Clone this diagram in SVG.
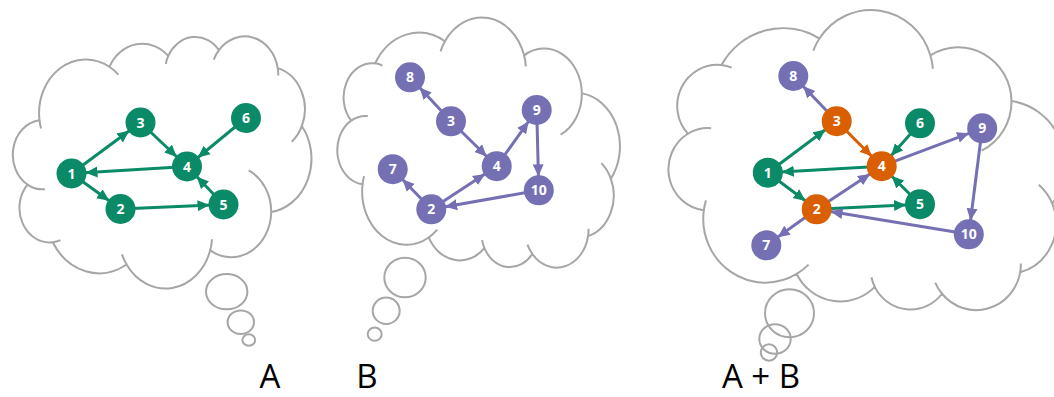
<svg xmlns="http://www.w3.org/2000/svg" xmlns:xlink="http://www.w3.org/1999/xlink" width="1054" height="397" viewBox="0 0 1054 397">
  <style>
    .cloud path, .tail { fill: none; stroke: #a6a6a6; stroke-width: 2; vector-effect: non-scaling-stroke; }
    .edge { fill: none; stroke-width: 3; }
    .g { stroke: #0a8a67; }
    .p { stroke: #7570b3; }
    .o { stroke: #d95f02; }
    .ng { fill: #0a8a67; }
    .np { fill: #7570b3; }
    .no { fill: #d95f02; }
    .node text { font-family: "Open Sans", "DejaVu Sans", sans-serif; font-weight: 700; font-size: 14px; fill: #ffffff; text-anchor: middle; }
    .caption { font-family: "Open Sans", "Liberation Sans", sans-serif; font-size: 33px; fill: #000000; text-anchor: middle; }
  </style>
  <defs>
    <!-- cloud outline on a 43200 x 43200 grid, plus the inner overlap arcs -->
    <g id="cloud" class="cloud">
      <path d="M3900 14370 A6753 9190 0 0 1 14000 5192 A5333 7267 0 0 1 22500 3330 A4365 5945 0 0 1 29820 2340 A4857 6595 0 0 1 38324 5426 A5333 7273 0 0 1 41798 15354 A6775 9220 0 0 1 37380 30089 A5785 7867 0 0 1 28560 36660 A6752 9215 0 0 1 16478 39090 A7720 10543 0 0 1 5820 35280 A4360 5918 0 0 1 2160 25380 A4345 5945 0 0 1 3900 14370 Z"/>
      <path d="M4693 26177 A4345 5945 0 0 1 2160 25380 M6928 34899 A4360 5918 0 0 1 5820 35280 M16478 39090 A6752 9215 0 0 1 15809 37348 M28827 34751 A6752 9215 0 0 1 28560 36660 M34129 22954 A5785 7867 0 0 1 37380 30089 M41798 15354 A5333 7273 0 0 1 40350 18030 M38324 5426 A4857 6595 0 0 1 38400 6690 M29078 3952 A4857 6595 0 0 1 29820 2340 M22141 4720 A4365 5945 0 0 1 22500 3330 M14000 5192 A6753 9190 0 0 1 15299 6540 M4127 15789 A6753 9190 0 0 1 3900 14370"/>
    </g>
    <!-- arrowheads: tip sits on the rim of a 15px node at the line end -->
    <marker id="mg" markerUnits="userSpaceOnUse" viewBox="0 -6 30 12" markerWidth="30" markerHeight="12" refX="26" refY="0" orient="auto">
      <path d="M0,-5.5 L12,0 L0,5.5 z" fill="#0a8a67"/>
    </marker>
    <marker id="mp" markerUnits="userSpaceOnUse" viewBox="0 -6 30 12" markerWidth="30" markerHeight="12" refX="26" refY="0" orient="auto">
      <path d="M0,-5.5 L12,0 L0,5.5 z" fill="#7570b3"/>
    </marker>
    <marker id="mo" markerUnits="userSpaceOnUse" viewBox="0 -6 30 12" markerWidth="30" markerHeight="12" refX="26" refY="0" orient="auto">
      <path d="M0,-5.5 L12,0 L0,5.5 z" fill="#d95f02"/>
    </marker>
  </defs>

  <rect width="1054" height="397" fill="#ffffff"/>

  <!-- thought clouds -->
  <g id="cloud-a">
    <use xlink:href="#cloud" href="#cloud" transform="translate(12.5,36.5) scale(0.0069213,0.0058333)"/>
    <ellipse class="tail" cx="226.7" cy="291.7" rx="20.7" ry="17.6"/>
    <ellipse class="tail" cx="240.8" cy="322.2" rx="13.2" ry="11.8"/>
    <ellipse class="tail" cx="248.8" cy="340" rx="6.4" ry="5.8"/>
  </g>
  <g id="cloud-b">
    <use xlink:href="#cloud" href="#cloud" transform="translate(337,267.5) scale(0.0065509,-0.005787)"/>
    <ellipse class="tail" cx="405" cy="277.5" rx="20.7" ry="19.8"/>
    <ellipse class="tail" cx="386.2" cy="310.8" rx="13.5" ry="13.2"/>
    <ellipse class="tail" cx="374.7" cy="334.2" rx="7" ry="6.6"/>
  </g>
  <g id="cloud-ab">
    <use xlink:href="#cloud" href="#cloud" transform="translate(668,310) scale(0.0091898,-0.0069444)"/>
    <ellipse class="tail" cx="789.5" cy="313.3" rx="24.5" ry="24"/>
    <ellipse class="tail" cx="775" cy="339" rx="15.7" ry="14.8"/>
    <ellipse class="tail" cx="769" cy="352.5" rx="8.2" ry="8.2"/>
  </g>

  <!-- connectors (centre to centre; nodes drawn on top) -->
  <g id="connectors">
    <!-- graph A -->
    <line class="edge g" x1="71.5" y1="173.5" x2="140.5" y2="122.5" marker-end="url(#mg)"/>
    <line class="edge g" x1="140.5" y1="122.5" x2="187" y2="166.5" marker-end="url(#mg)"/>
    <line class="edge g" x1="246" y1="118" x2="187" y2="166.5" marker-end="url(#mg)"/>
    <line class="edge g" x1="187" y1="166.5" x2="71.5" y2="173.5" marker-end="url(#mg)"/>
    <line class="edge g" x1="71.5" y1="173.5" x2="120.5" y2="209" marker-end="url(#mg)"/>
    <line class="edge g" x1="120.5" y1="209" x2="223.5" y2="204.5" marker-end="url(#mg)"/>
    <line class="edge g" x1="223.5" y1="204.5" x2="187" y2="166.5" marker-end="url(#mg)"/>
    <!-- graph B -->
    <line class="edge p" x1="451" y1="121.3" x2="410" y2="77.3" marker-end="url(#mp)"/>
    <line class="edge p" x1="451" y1="121.3" x2="496.7" y2="166.2" marker-end="url(#mp)"/>
    <line class="edge p" x1="496.7" y1="166.2" x2="536.7" y2="110" marker-end="url(#mp)"/>
    <line class="edge p" x1="536.7" y1="110" x2="538.8" y2="190.3" marker-end="url(#mp)"/>
    <line class="edge p" x1="538.8" y1="190.3" x2="431.3" y2="209.3" marker-end="url(#mp)"/>
    <line class="edge p" x1="431.3" y1="209.3" x2="496.7" y2="166.2" marker-end="url(#mp)"/>
    <line class="edge p" x1="431.3" y1="209.3" x2="392.7" y2="169.2" marker-end="url(#mp)"/>
    <!-- graph A + B -->
    <line class="edge g" x1="767.8" y1="172.7" x2="836.7" y2="121.2" marker-end="url(#mg)"/>
    <line class="edge g" x1="920" y1="123.3" x2="881.7" y2="166.2" marker-end="url(#mg)"/>
    <line class="edge g" x1="881.7" y1="166.2" x2="767.8" y2="172.7" marker-end="url(#mg)"/>
    <line class="edge g" x1="767.8" y1="172.7" x2="816.7" y2="209.3" marker-end="url(#mg)"/>
    <line class="edge g" x1="816.7" y1="209.3" x2="920" y2="204.2" marker-end="url(#mg)"/>
    <line class="edge g" x1="920" y1="204.2" x2="881.7" y2="166.2" marker-end="url(#mg)"/>
    <line class="edge o" x1="836.7" y1="121.2" x2="881.7" y2="166.2" marker-end="url(#mo)"/>
    <line class="edge p" x1="836.7" y1="121.2" x2="793.3" y2="76" marker-end="url(#mp)"/>
    <line class="edge p" x1="881.7" y1="166.2" x2="982.2" y2="128.3" marker-end="url(#mp)"/>
    <line class="edge p" x1="982.2" y1="128.3" x2="968.8" y2="234.3" marker-end="url(#mp)"/>
    <line class="edge p" x1="968.8" y1="234.3" x2="816.7" y2="209.3" marker-end="url(#mp)"/>
    <line class="edge p" x1="816.7" y1="209.3" x2="881.7" y2="166.2" marker-end="url(#mp)"/>
    <line class="edge p" x1="816.7" y1="209.3" x2="766.3" y2="245.3" marker-end="url(#mp)"/>
  </g>

  <!-- graph A nodes -->
  <g id="a1" class="node"><circle class="ng" cx="71.5" cy="173.5" r="15"/><text x="71.5" y="178.5">1</text></g>
  <g id="a2" class="node"><circle class="ng" cx="120.5" cy="209" r="15"/><text x="120.5" y="214">2</text></g>
  <g id="a3" class="node"><circle class="ng" cx="140.5" cy="122.5" r="15"/><text x="140.5" y="127.5">3</text></g>
  <g id="a4" class="node"><circle class="ng" cx="187" cy="166.5" r="15"/><text x="187" y="171.5">4</text></g>
  <g id="a5" class="node"><circle class="ng" cx="223.5" cy="204.5" r="15"/><text x="223.5" y="209.5">5</text></g>
  <g id="a6" class="node"><circle class="ng" cx="246" cy="118" r="15"/><text x="246" y="123">6</text></g>

  <!-- graph B nodes -->
  <g id="b8" class="node"><circle class="np" cx="410" cy="77.3" r="15"/><text x="410" y="82.3">8</text></g>
  <g id="b3" class="node"><circle class="np" cx="451" cy="121.3" r="15"/><text x="451" y="126.3">3</text></g>
  <g id="b9" class="node"><circle class="np" cx="536.7" cy="110" r="15"/><text x="536.7" y="115">9</text></g>
  <g id="b4" class="node"><circle class="np" cx="496.7" cy="166.2" r="15"/><text x="496.7" y="171.2">4</text></g>
  <g id="b7" class="node"><circle class="np" cx="392.7" cy="169.2" r="15"/><text x="392.7" y="174.2">7</text></g>
  <g id="b2" class="node"><circle class="np" cx="431.3" cy="209.3" r="15"/><text x="431.3" y="214.3">2</text></g>
  <g id="b10" class="node"><circle class="np" cx="538.8" cy="190.3" r="15"/><text x="538.8" y="195.3">10</text></g>

  <!-- graph A + B nodes -->
  <g id="c8" class="node"><circle class="np" cx="793.3" cy="76" r="15"/><text x="793.3" y="81">8</text></g>
  <g id="c3" class="node"><circle class="no" cx="836.7" cy="121.2" r="15"/><text x="836.7" y="126.2">3</text></g>
  <g id="c6" class="node"><circle class="ng" cx="920" cy="123.3" r="15"/><text x="920" y="128.3">6</text></g>
  <g id="c9" class="node"><circle class="np" cx="982.2" cy="128.3" r="15"/><text x="982.2" y="133.3">9</text></g>
  <g id="c1" class="node"><circle class="ng" cx="767.8" cy="172.7" r="15"/><text x="767.8" y="177.7">1</text></g>
  <g id="c4" class="node"><circle class="no" cx="881.7" cy="166.2" r="15"/><text x="881.7" y="171.2">4</text></g>
  <g id="c2" class="node"><circle class="no" cx="816.7" cy="209.3" r="15"/><text x="816.7" y="214.3">2</text></g>
  <g id="c5" class="node"><circle class="ng" cx="920" cy="204.2" r="15"/><text x="920" y="209.2">5</text></g>
  <g id="c7" class="node"><circle class="np" cx="766.3" cy="245.3" r="15"/><text x="766.3" y="250.3">7</text></g>
  <g id="c10" class="node"><circle class="np" cx="968.8" cy="234.3" r="15"/><text x="968.8" y="239.3">10</text></g>

  <!-- captions -->
  <text class="caption" x="270" y="388">A</text>
  <text class="caption" x="367" y="388">B</text>
  <text class="caption" x="761" y="388">A + B</text>
</svg>
